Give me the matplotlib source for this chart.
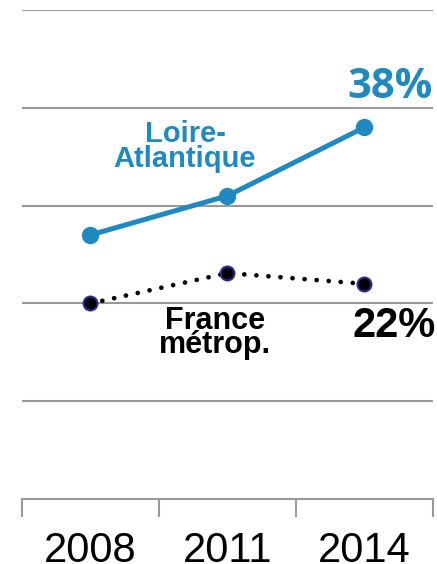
import matplotlib
matplotlib.use("Agg")
import matplotlib.pyplot as plt
import numpy as np

years = ["2008", "2011", "2014"]
loire = [27.0, 31.0, 38.0]
france = [20.0, 23.1, 22.0]
yticks = [0, 10, 20, 30, 40, 50]

BLUE = "#1f8ac0"
NAVY = "#2b2b8f"
GRID = "#9a9a9a"

fig = plt.figure(figsize=(4.37, 5.64), dpi=100)
ax = fig.add_axes([22/437, 1-499/564, (433-22)/437, (499-10)/564])
x = np.arange(len(years))

for yv in yticks[1:]:
    ax.axhline(yv, color=GRID, lw=1.5, zorder=1)

ax.plot(x, loire, color=BLUE, lw=3.6, marker="o", ms=11.5, zorder=3,
        solid_capstyle="round")
ax.plot(x, france, color="black", lw=3.4, linestyle=(0, (0.01, 2.55)),
        dash_capstyle="round", marker="o", ms=10, mfc="black", mec=NAVY,
        mew=1.5, zorder=3)

ax.set_xlim(-0.5, len(years) - 0.5)
ax.set_ylim(0, 50)
for s in ["top", "right", "left"]:
    ax.spines[s].set_visible(False)
ax.spines["bottom"].set_color(GRID)
ax.spines["bottom"].set_linewidth(1.5)
ax.set_yticks([])
ax.set_xticks(x)
ax.set_xticklabels(years, fontsize=30, family="Liberation Sans")
ax.tick_params(axis="x", which="major", length=0, pad=23)
ax.set_xticks(np.arange(len(years) + 1) - 0.5, minor=True)
ax.tick_params(axis="x", which="minor", length=13, width=1.5, color=GRID)

ax.text(2.5, 41.0, f"{round(loire[-1])}%", color=BLUE, fontsize=30,
        fontweight="bold", family="Open Sans", ha="right", va="baseline")
ax.text(2.52, 16.6, f"{round(france[-1])}%", color="black", fontsize=30,
        fontweight="bold", family="Liberation Sans", ha="right", va="baseline")

ax.text(0.69, 33.95, "Loire-\nAtlantique", color=BLUE, fontsize=21,
        fontweight="bold", family="Liberation Sans", ha="center",
        va="baseline", multialignment="center", linespacing=0.85)
ax.text(0.91, 14.9, "France\nmétrop.", color="black", fontsize=22,
        fontweight="bold", family="Liberation Sans", ha="center",
        va="baseline", multialignment="center", linespacing=0.74)

fig.savefig("out.png", dpi=100)
